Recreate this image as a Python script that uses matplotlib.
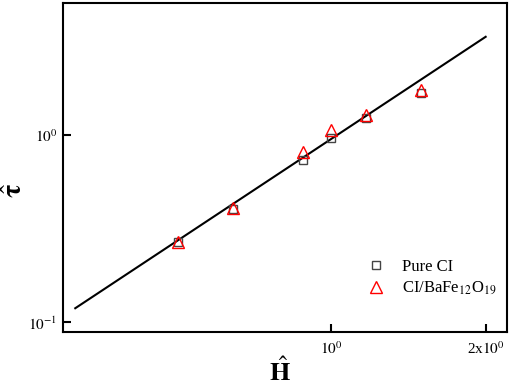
import matplotlib
matplotlib.use("Agg")
import matplotlib.pyplot as plt
from matplotlib.ticker import FixedLocator, FixedFormatter, NullLocator

plt.rcParams['font.family'] = ['Liberation Serif', 'DejaVu Serif']
plt.rcParams['mathtext.fontset'] = 'stix'

# measured points
h_pure = [0.505, 0.645, 0.883, 1.00, 1.17, 1.50]
tau_pure = [0.268, 0.403, 0.735, 0.960, 1.237, 1.68]
h_ba = [0.505, 0.645, 0.883, 1.00, 1.17, 1.50]
tau_ba = [0.269, 0.406, 0.814, 1.063, 1.279, 1.74]

# fitted line end points
fit_h = [0.318, 2.0]
fit_tau = [0.119, 3.35]

x_ticks = [1, 2]
x_labels = [r'$10^0$', r'2x$10^0$']
y_ticks = [0.1, 1]
y_labels = [r'$10^{-1}$', r'$10^0$']

fig = plt.figure(figsize=(5.1, 3.87), dpi=100)
ax = fig.add_axes([0.1235, 0.142, 0.8705, 0.85])

ax.plot(fit_h, fit_tau, color='black', lw=1.5)
ax.plot(h_pure, tau_pure, 's', ms=6, mfc='none', mec='#444444', mew=1.0,
        label='Pure CI')
ax.plot(h_ba, tau_ba, '^', ms=8, mfc='none', mec='red', mew=1.0,
        label=r'CI/BaFe$_{12}$O$_{19}$')

ax.set_xscale('log')
ax.set_yscale('log')
ax.set_xlim(0.301, 2.2)
ax.set_ylim(0.0888, 5.07)

ax.xaxis.set_major_locator(FixedLocator(x_ticks))
ax.xaxis.set_major_formatter(FixedFormatter(x_labels))
ax.xaxis.set_minor_locator(NullLocator())
ax.yaxis.set_major_locator(FixedLocator(y_ticks))
ax.yaxis.set_major_formatter(FixedFormatter(y_labels))
ax.yaxis.set_minor_locator(NullLocator())
ax.tick_params(direction='in', length=6, width=1.5, labelsize=11, pad=6)
ax.tick_params(axis='y', pad=4)

for s in ax.spines.values():
    s.set_linewidth(1.5)

# axis labels placed by hand, like the original
fig.text(280 / 510, 1 - 372 / 387, r'$\hat{\mathbf{H}}$', fontsize=19,
         ha='center', va='center')
fig.text(16 / 510, 1 - 190 / 387, r'$\hat{\mathbf{\tau}}$', fontsize=20,
         ha='center', va='center', rotation=90)

ax.legend(loc='lower right', bbox_to_anchor=(1.01, 0.06), frameon=False,
          fontsize=12, handletextpad=0.8, handlelength=1.5, labelspacing=0.3)

fig.savefig('out.png', dpi=100)
